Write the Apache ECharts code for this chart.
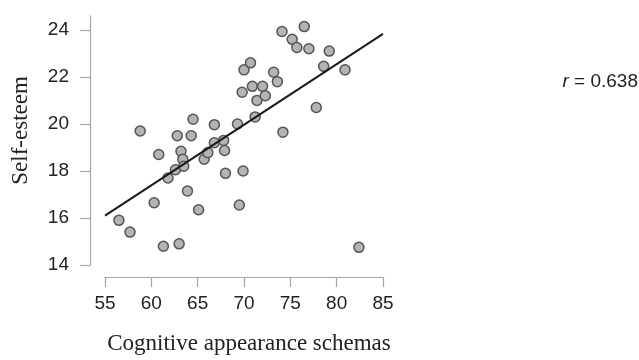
<!DOCTYPE html>
<html>
<head>
<meta charset="utf-8">
<style>html,body{margin:0;padding:0;background:#fff}#c{width:639px;height:360px}</style>
<script src="https://cdn.jsdelivr.net/npm/echarts@6/dist/echarts.min.js"></script>
</head>
<body>
<div id="c"></div>
<script>
// Cognitive appearance schemas (x) vs Self-esteem (y)
const schemas = [56.5,57.7,58.8,60.3,60.8,61.3,61.8,62.6,62.8,63.0,63.2,63.4,63.5,63.9,64.3,64.5,65.1,65.7,66.1,66.8,66.8,67.8,67.9,68.0,69.3,69.5,69.9,69.8,70.0,70.7,70.9,71.2,71.4,72.0,72.3,73.2,73.6,74.1,74.2,75.2,75.7,76.5,77.0,77.8,78.6,79.2,80.9,82.4];
const selfEsteem = [15.9,15.4,19.7,16.65,18.7,14.8,17.7,18.05,19.5,14.9,18.84,18.5,18.2,17.15,19.5,20.2,16.35,18.5,18.78,19.97,19.2,19.3,18.87,17.9,20.0,16.55,18.0,21.35,22.3,22.6,21.6,20.3,21.0,21.6,21.2,22.2,21.8,23.93,19.65,23.6,23.25,24.14,23.2,20.7,22.45,23.1,22.3,14.75];
const fitX = [55, 85];
const fitY = [16.1, 23.83];
const xTicks = [55,60,65,70,75,80,85];
const yTicks = [14,16,18,20,22,24];
const rText = '0.638';

const points = schemas.map((x,i)=>[x, selfEsteem[i]]);
const fitLine = fitX.map((x,i)=>[x, fitY[i]]);

const chart = echarts.init(document.getElementById('c'), null, {renderer:'canvas'});
const axisGrey = '#a6a6a6';
chart.setOption({
  animation:false,
  grid:{left:105, top:15.8, width:278, height:250.2, containLabel:false},
  xAxis:{
    type:'value', min:55, max:85, interval:5, offset:12,
    name:'Cognitive appearance schemas', nameLocation:'middle', nameGap:55,
    nameTextStyle:{fontFamily:'Liberation Serif', fontSize:23, color:'#222', padding:[0,0,0,10]},
    axisLine:{show:true, lineStyle:{color:axisGrey, width:1.2}},
    axisTick:{show:true, length:10, lineStyle:{color:axisGrey, width:1.2}, customValues:xTicks},
    axisLabel:{fontFamily:'Liberation Sans', fontSize:19, color:'#222', margin:17, customValues:xTicks},
    splitLine:{show:false}
  },
  yAxis:{
    type:'value', min:14, max:24.6, offset:15,
    name:'Self-esteem', nameLocation:'middle', nameGap:58, nameRotate:90,
    nameTextStyle:{fontFamily:'Liberation Serif', fontSize:23, color:'#222', padding:[0,0,0,20]},
    axisLine:{show:true, lineStyle:{color:axisGrey, width:1.2}},
    axisTick:{show:true, length:10, lineStyle:{color:axisGrey, width:1.2}, customValues:yTicks},
    axisLabel:{fontFamily:'Liberation Sans', fontSize:19, color:'#222', margin:21, customValues:yTicks},
    splitLine:{show:false}
  },
  graphic:[{
    type:'text', right:1, top:72,
    style:{
      text:'{i|r} = '+rText,
      rich:{i:{fontStyle:'italic', fontFamily:'Liberation Sans', fontSize:19, fill:'#222'}},
      fontFamily:'Liberation Sans', fontSize:19, fill:'#222'
    }
  }],
  series:[
    {type:'line', data:fitLine, symbol:'none', lineStyle:{color:'#1a1a1a', width:2}, z:3},
    {type:'scatter', data:points, symbolSize:10,
     itemStyle:{color:'#b4b4b4', borderColor:'#555', borderWidth:1.5, opacity:1}, z:2}
  ]
});
</script>
</body>
</html>
